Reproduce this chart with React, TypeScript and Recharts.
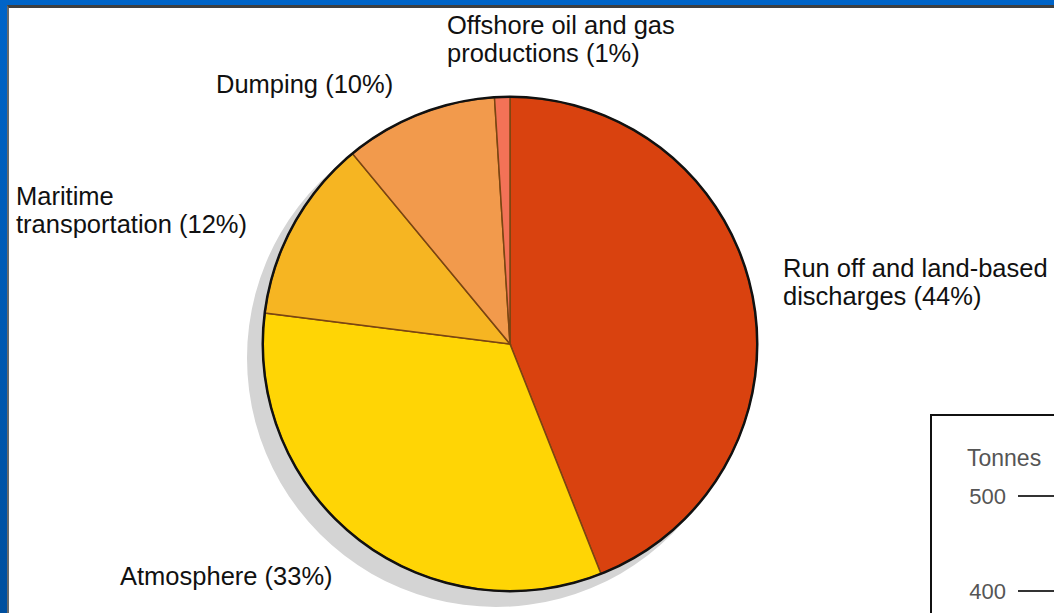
import React from 'react';
import { PieChart, Pie, Cell, LineChart, YAxis, XAxis, Line } from 'recharts';

// ---- data ----
const sliceNames = [
  'Run off and land-based discharges',
  'Atmosphere',
  'Maritime transportation',
  'Dumping',
  'Offshore oil and gas productions',
];
const sliceShares = [44, 33, 12, 10, 1];
const sliceLabelLines = [
  ['Run off and land-based', 'discharges'],
  ['Atmosphere'],
  ['Maritime', 'transportation'],
  ['Dumping'],
  ['Offshore oil and gas', 'productions'],
];
const insetAxisTitle = 'Tonnes';
const insetTicks = [400, 500];
const insetCategories = ['', ''];

// ---- styles ----
const sliceColors = ['#d9420f', '#ffd505', '#f6b522', '#f29a4c', '#f37257'];
const labelPos = [
  { x: 783, y: 277 },
  { x: 120, y: 585 },
  { x: 16, y: 205 },
  { x: 216, y: 93 },
  { x: 447, y: 34 },
];
const CX = 510;
const CY = 344;
const R = 247;
const FONT = '"Liberation Sans", Arial, sans-serif';

const pieData = sliceNames.map((name, i) => ({ name, value: sliceShares[i] }));
const wholeData = [{ name: 'whole', value: sliceShares.reduce((a, b) => a + b, 0) }];
const insetData = insetCategories.map((c) => ({ c, v: null as number | null }));

export default function App() {
  return (
    <div
      style={{
        position: 'absolute',
        left: 0,
        top: 0,
        width: 1054,
        height: 613,
        overflow: 'hidden',
        background: 'linear-gradient(to bottom, #0064c8, #004f9e)',
      }}
    >
      <div
        style={{
          position: 'absolute',
          left: 7,
          top: 5,
          right: 0,
          bottom: 0,
          background: '#ffffff',
          borderLeft: '2px solid #6a6a6a',
          borderTop: '3px solid #3f3f3f',
        }}
      />
      <div style={{ position: 'absolute', left: 0, top: 0 }}>
        <PieChart width={1054} height={613} margin={{ top: 0, right: 0, bottom: 0, left: 0 }}>
          <Pie
            data={wholeData}
            dataKey="value"
            cx={CX - 14}
            cy={CY + 14}
            outerRadius={R + 2}
            startAngle={90}
            endAngle={-270}
            fill="#d4d4d4"
            stroke="none"
            isAnimationActive={false}
          />
          <Pie
            data={pieData}
            dataKey="value"
            nameKey="name"
            cx={CX}
            cy={CY}
            outerRadius={R}
            startAngle={90}
            endAngle={-270}
            stroke="#7a4512"
            strokeWidth={1.5}
            isAnimationActive={false}
          >
            {pieData.map((d, i) => (
              <Cell key={d.name} fill={sliceColors[i]} />
            ))}
          </Pie>
          <Pie
            data={wholeData}
            dataKey="value"
            cx={CX}
            cy={CY}
            innerRadius={R - 1}
            outerRadius={R + 1.5}
            startAngle={90}
            endAngle={-270}
            fill="#111111"
            stroke="none"
            isAnimationActive={false}
          />
        </PieChart>
      </div>
      <svg
        width={1054}
        height={613}
        style={{ position: 'absolute', left: 0, top: 0, pointerEvents: 'none' }}
      >
        {sliceLabelLines.map((lines, i) => (
          <text
            key={sliceNames[i]}
            x={labelPos[i].x}
            y={labelPos[i].y}
            fontFamily={FONT}
            fontSize={25.5}
            fill="#111"
          >
            {lines.map((ln, j) => (
              <tspan key={j} x={labelPos[i].x} dy={j === 0 ? 0 : 28}>
                {j === lines.length - 1 ? `${ln} (${sliceShares[i]}%)` : ln}
              </tspan>
            ))}
          </text>
        ))}
      </svg>
      <div
        style={{
          position: 'absolute',
          left: 930,
          top: 414,
          width: 400,
          height: 400,
          borderLeft: '2px solid #111',
          borderTop: '2px solid #111',
          background: '#fff',
        }}
      >
        <svg width={120} height={60} style={{ position: 'absolute', left: 0, top: 0 }}>
          <text x={35} y={50} fontFamily={FONT} fontSize={23} fill="#555">
            {insetAxisTitle}
          </text>
        </svg>
        <div style={{ position: 'absolute', left: 0, top: 0 }}>
          <LineChart
            width={300}
            height={280}
            data={insetData}
            margin={{ top: 32.5, right: 10, bottom: 10, left: 0 }}
          >
            <XAxis dataKey="c" hide />
            <YAxis
              width={126}
              domain={[300, 550]}
              ticks={insetTicks}
              tickSize={40}
              tickMargin={12}
              axisLine={{ stroke: '#333', strokeWidth: 2 }}
              tickLine={{ stroke: '#333', strokeWidth: 2 }}
              tick={{ fill: '#555', fontSize: 22, fontFamily: FONT }}
              allowDataOverflow
            />
            <Line dataKey="v" stroke="#333" dot={false} isAnimationActive={false} />
          </LineChart>
        </div>
      </div>
    </div>
  );
}
